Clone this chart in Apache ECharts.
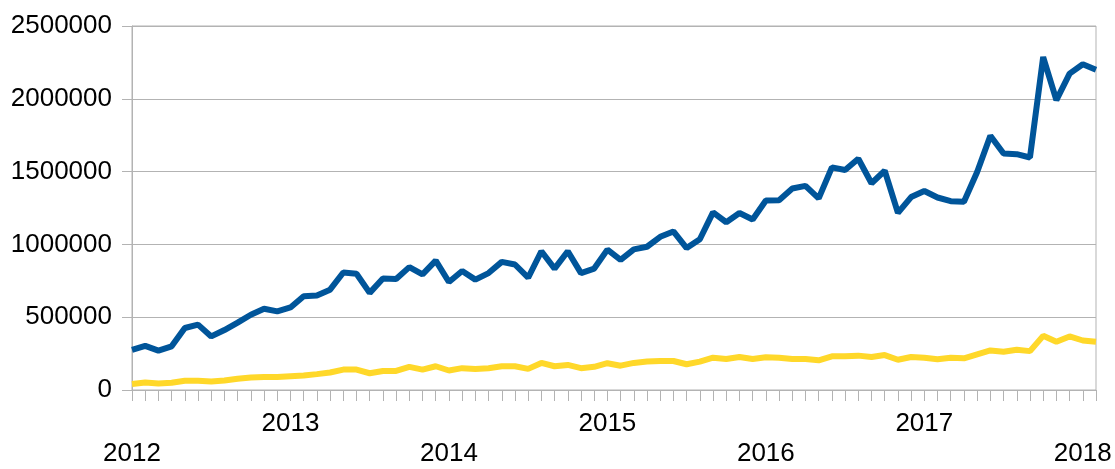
<!DOCTYPE html>
<html>
<head>
<meta charset="utf-8">
<script src="https://cdn.jsdelivr.net/npm/echarts@6/dist/echarts.min.js"></script>
<style>
html,body{margin:0;padding:0;background:#fff;}
#chart{width:1115px;height:469px;}
</style>
</head>
<body>
<div id="chart"></div>
<script>
var months = [
'2012-01','2012-02','2012-03','2012-04','2012-05','2012-06','2012-07','2012-08','2012-09','2012-10','2012-11','2012-12',
'2013-01','2013-02','2013-03','2013-04','2013-05','2013-06','2013-07','2013-08','2013-09','2013-10','2013-11','2013-12',
'2014-01','2014-02','2014-03','2014-04','2014-05','2014-06','2014-07','2014-08','2014-09','2014-10','2014-11','2014-12',
'2015-01','2015-02','2015-03','2015-04','2015-05','2015-06','2015-07','2015-08','2015-09','2015-10','2015-11','2015-12',
'2016-01','2016-02','2016-03','2016-04','2016-05','2016-06','2016-07','2016-08','2016-09','2016-10','2016-11','2016-12',
'2017-01','2017-02','2017-03','2017-04','2017-05','2017-06','2017-07','2017-08','2017-09','2017-10','2017-11','2017-12',
'2018-01','2018-02'
];
var yearLabels = ['2012','2013','2014','2015','2016','2017','2018'];
var yTicks = [0, 500000, 1000000, 1500000, 2000000, 2500000];

var seriesBlue = [
275000,303000,270000,300000,426000,449000,368000,412000,463000,517000,558000,540000,
567000,644000,649000,689000,807000,798000,667000,766000,762000,844000,794000,889000,
742000,817000,758000,803000,880000,862000,771000,953000,834000,953000,803000,834000,
964000,894000,966000,984000,1052000,1089000,975000,1035000,1220000,1152000,1216000,1171000,
1302000,1304000,1384000,1402000,1316000,1529000,1511000,1588000,1420000,1506000,1216000,1325000,
1367000,1322000,1297000,1293000,1497000,1746000,1624000,1620000,1597000,2287000,1991000,2173000,
2237000,2200000
];
var seriesYellow = [
41000,52000,45000,50000,63000,63000,59000,65000,77000,86000,90000,90000,
95000,99000,109000,120000,140000,140000,115000,131000,131000,159000,140000,163000,
134000,150000,145000,150000,163000,163000,145000,186000,163000,172000,150000,159000,
184000,167000,186000,195000,199000,199000,177000,195000,222000,213000,227000,213000,
225000,222000,213000,213000,204000,231000,231000,236000,227000,240000,208000,227000,
222000,211000,222000,218000,245000,272000,263000,276000,267000,372000,331000,368000,
340000,331000
];

var chart = echarts.init(document.getElementById('chart'), null, {renderer:'canvas'});
var gray = '#b3b3b3';
chart.setOption({
  animation: false,
  backgroundColor: '#ffffff',
  grid: {left:132, right:19, top:26, bottom:76, show:true, borderColor:gray, borderWidth:1, backgroundColor:'transparent'},
  xAxis: {
    type:'category',
    data: months,
    boundaryGap:false,
    axisLine:{show:true, lineStyle:{color:gray, width:1}},
    axisTick:{show:true, interval:0, length:11, lineStyle:{color:gray, width:1}},
    splitLine:{show:false},
    axisLabel:{
      interval: function(i){ return i % 12 === 0; },
      margin: 19,
      fontFamily:'Liberation Sans, Arial, sans-serif',
      fontSize:26,
      lineHeight:30,
      color:'#000',
      formatter: function(v, i){
        var y = yearLabels[Math.round(i/12)];
        return (Math.round(i/12) % 2 === 1) ? y : '\n' + y;
      }
    }
  },
  yAxis: {
    type:'value',
    min: yTicks[0], max: yTicks[yTicks.length-1], interval: yTicks[1]-yTicks[0],
    axisLine:{show:true, lineStyle:{color:gray, width:1}},
    axisTick:{show:true, length:10, lineStyle:{color:gray, width:1}},
    splitLine:{show:true, lineStyle:{color:gray, width:1}},
    axisLabel:{
      margin:20,
      fontFamily:'Liberation Sans, Arial, sans-serif',
      fontSize:26,
      color:'#000',
      formatter: function(v){ return String(v); }
    }
  },
  series: [
    {type:'line', data: seriesBlue, symbol:'none', lineStyle:{color:'#00559a', width:6}, itemStyle:{color:'#00559a'}},
    {type:'line', data: seriesYellow, symbol:'none', lineStyle:{color:'#ffd82a', width:6}, itemStyle:{color:'#ffd82a'}}
  ]
});
</script>
</body>
</html>
